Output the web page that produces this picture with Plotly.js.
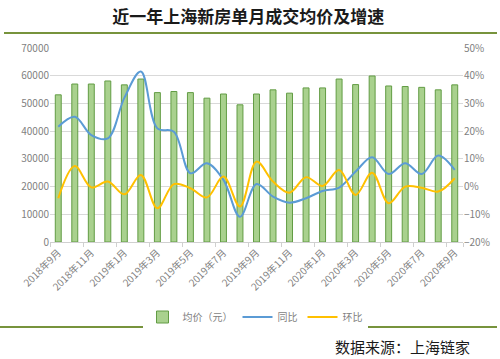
<!DOCTYPE html>
<html>
<head>
<meta charset="utf-8">
<script src="https://cdn.plot.ly/plotly-3.0.1.min.js"></script>
<style>
html,body{margin:0;padding:0;background:#fff;}
#chart{width:500px;height:359px;}
</style>
</head>
<body>
<div id="chart"></div>
<script>
const months = ["2018年9月","2018年10月","2018年11月","2018年12月","2019年1月","2019年2月","2019年3月","2019年4月","2019年5月","2019年6月","2019年7月","2019年8月","2019年9月","2019年10月","2019年11月","2019年12月","2020年1月","2020年2月","2020年3月","2020年4月","2020年5月","2020年6月","2020年7月","2020年8月","2020年9月"];
const tickLabels = ["2018年9月","2018年11月","2019年1月","2019年3月","2019年5月","2019年7月","2019年9月","2019年11月","2020年1月","2020年3月","2020年5月","2020年7月","2020年9月"];
const avgPrice = [53100,57000,57000,58100,56700,58800,53900,54300,53900,51900,53400,49500,53400,54900,53700,55600,55600,58800,56800,59900,56300,56100,55800,54900,56700];
const yoy = [0.216,0.252,0.186,0.174,0.32,0.415,0.21,0.198,0.048,0.084,0.024,-0.109,0.009,-0.036,-0.058,-0.042,-0.016,-0.004,0.054,0.106,0.045,0.084,0.045,0.112,0.06];
const mom = [-0.042,0.074,-0.003,0.018,-0.028,0.042,-0.078,0.009,-0.006,-0.039,0.036,-0.072,0.09,0.018,-0.022,0.034,0.002,0.06,-0.03,0.05,-0.06,0.0,-0.004,-0.018,0.03];

const L = 50, R = 463, T = 48, B = 242;
const px = x => (x - L) / (R - L);
const py = y => (B - y) / (B - T);

const data = [
  {type:'bar', x:months, y:avgPrice, name:'均价（元）',
   marker:{color:'#a9d18e', line:{color:'#629c44', width:1}}},
  {type:'scatter', mode:'lines', x:months, y:yoy, name:'同比', yaxis:'y2',
   line:{color:'#5b9bd5', width:2, shape:'spline', smoothing:1}},
  {type:'scatter', mode:'lines', x:months, y:mom, name:'环比', yaxis:'y2',
   line:{color:'#ffc000', width:2, shape:'spline', smoothing:1}}
];

const layout = {
  width:500, height:359,
  margin:{l:L, r:500-R, t:T, b:359-B},
  paper_bgcolor:'#fff', plot_bgcolor:'#fff',
  font:{family:'"Noto Sans CJK SC", sans-serif', color:'#7f7f7f', size:10},
  title:{text:'<b>近一年上海新房单月成交均价及增速</b>', x:240/500, xanchor:'center', xref:'paper',
         y:1-17/359, yanchor:'middle', yref:'container',
         font:{family:'"Noto Sans CJK SC", serif', size:17, color:'#1a1a1a'}},
  bargap:0.64,
  showlegend:true,
  legend:{orientation:'h', x:px(255), xanchor:'center', y:py(317), yanchor:'middle',
          font:{size:10, color:'#7f7f7f'}, itemwidth:30, tracegroupgap:0},
  xaxis:{type:'category', tickmode:'array', tickvals:tickLabels, ticktext:tickLabels,
         tickangle:-45, showline:true, linecolor:'#d0d0d0', linewidth:1,
         ticks:'outside', ticklen:4, tickcolor:'#d0d0d0', tickson:'boundaries',
         showgrid:false, tickfont:{size:10, color:'#7f7f7f'}, fixedrange:true},
  yaxis:{range:[0,70000], dtick:10000, tick0:0, tickformat:'d', showgrid:true, gridcolor:'#d9d9d9',
         zeroline:false, tickfont:{size:10, color:'#7f7f7f'}, ticks:'', ticklen:0},
  yaxis2:{range:[-0.2,0.5], dtick:0.1, tick0:-0.2, tickformat:'.0%', overlaying:'y', side:'right',
          showgrid:false, zeroline:false, tickfont:{size:10, color:'#7f7f7f'}},
  shapes:[
    {type:'line', xref:'paper', yref:'paper', x0:px(4), x1:px(497), y0:py(33), y1:py(33),
     line:{color:'#77933c', width:2}},
    {type:'line', xref:'paper', yref:'paper', x0:px(0), x1:px(497), y0:py(327), y1:py(327),
     line:{color:'#77933c', width:2}}
  ],
  annotations:[
    {text:'数据来源：上海链家', xref:'paper', yref:'paper', x:px(472), xanchor:'right',
     y:py(346), yanchor:'middle', showarrow:false,
     font:{family:'"Noto Sans CJK SC", serif', size:15, color:'#1a1a1a'}}
  ]
};

Plotly.newPlot('chart', data, layout, {displayModeBar:false, staticPlot:true});
</script>
</body>
</html>
